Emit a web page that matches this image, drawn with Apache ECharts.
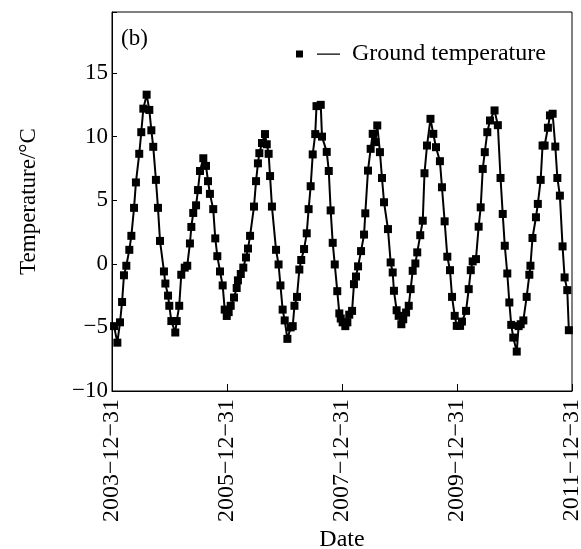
<!DOCTYPE html>
<html><head><meta charset="utf-8">
<script src="https://cdn.jsdelivr.net/npm/echarts@6/dist/echarts.min.js"></script>
<style>html,body{margin:0;padding:0;background:#fff}#c{width:581px;height:549px}</style>
</head><body><div id="c"></div>
<script>
// Observation day (days since 2003-12-31) and ground temperature (°C)
const obsDay = [13,34,51,64,76,91,110,123,140,152,173,186,199,220,237,250,262,279,292,305,330,339,356,364,377,402,411,427,440,462,478,495,504,516,534,546,559,580,597,610,622,643,656,669,686,703,716,729,741,754,775,792,800,818,834,851,864,877,902,915,927,936,953,972,983,995,1004,1016,1042,1058,1070,1084,1097,1114,1135,1148,1159,1175,1190,1202,1220,1237,1249,1262,1275,1291,1299,1326,1334,1364,1377,1389,1402,1415,1431,1444,1453,1465,1482,1495,1507,1525,1537,1550,1563,1582,1601,1609,1626,1643,1656,1673,1685,1702,1715,1728,1753,1770,1783,1791,1808,1821,1838,1850,1868,1885,1897,1910,1927,1939,1958,1974,1985,2001,2023,2041,2058,2083,2096,2113,2130,2147,2160,2177,2190,2211,2223,2249,2266,2279,2291,2312,2329,2342,2355,2368,2384,2401,2430,2451,2468,2482,2495,2511,2524,2536,2549,2571,2583,2596,2613,2634,2651,2658,2671,2693,2705,2723,2735,2748,2769,2782,2799,2816,2829,2845,2862,2875,2892,2902];
const groundTemp = [-4.9,-6.2,-4.6,-3.0,-0.9,-0.15,1.1,2.2,4.4,6.4,8.65,10.35,12.2,13.3,12.1,10.5,9.2,6.6,4.4,1.8,-0.6,-1.55,-2.5,-3.3,-4.5,-5.4,-4.5,-3.3,-0.86,-0.3,-0.15,1.6,2.9,4.0,4.6,5.8,7.3,8.3,7.7,6.5,5.5,4.3,2.0,0.6,-0.6,-1.7,-3.6,-4.1,-3.8,-3.3,-2.65,-1.9,-1.3,-0.8,-0.3,0.5,1.2,2.2,4.5,6.5,7.9,8.7,9.5,10.2,9.4,8.65,6.9,4.5,1.1,-0.05,-1.7,-3.6,-4.45,-5.9,-5.0,-4.9,-3.3,-2.6,-0.45,0.3,1.16,2.4,4.3,6.1,8.6,10.2,12.4,12.5,10.0,8.8,7.3,4.2,1.65,-0.05,-2.15,-3.9,-4.3,-4.6,-4.9,-4.6,-4.0,-3.7,-1.6,-1.0,-0.2,1.0,2.3,3.97,7.33,9.04,10.22,9.57,10.88,8.78,6.75,4.84,2.73,0.11,-0.68,-2.12,-3.65,-4.09,-4.75,-4.36,-3.83,-3.3,-1.99,-0.55,0.03,0.9,2.25,3.39,7.12,9.3,11.4,10.22,9.17,8.07,6.02,3.34,0.56,-0.5,-2.6,-4.09,-4.88,-4.88,-4.54,-3.7,-1.99,-0.5,0.19,0.37,2.92,4.44,7.46,8.78,10.35,11.27,12.06,10.9,6.75,3.92,1.42,-0.76,-3.04,-4.8,-5.8,-6.9,-4.9,-4.75,-4.45,-2.6,-0.86,-0.15,2.03,3.66,4.71,6.6,9.3,9.3,10.7,11.67,11.8,9.22,6.75,5.36,1.37,-1.07,-2.07,-5.22];
const xTickLabels = ['2003\u221212\u221231','2005\u221212\u221231','2007\u221212\u221231','2009\u221212\u221231','2011\u221212\u221231'];
const seriesName = 'Ground temperature';

const FONT = "'Liberation Serif','Times New Roman',serif";
const chart = echarts.init(document.getElementById('c'), null, {renderer: 'canvas'});
chart.setOption({
  animation: false,
  backgroundColor: '#fff',
  title: {
    text: '(b)', left: 121, top: 27, padding: 0,
    textStyle: {fontFamily: FONT, fontSize: 23, fontWeight: 'normal', color: '#000'}
  },
  legend: {
    left: 296, top: 42, padding: 0,
    itemWidth: 51, itemHeight: 7,
    data: [{name: seriesName, icon: 'path://M0,0.5h7v7h-7zM21,3.4h23v1.3h-23zM51,4h0.01v0.01h-0.01z'}],
    textStyle: {fontFamily: FONT, fontSize: 24, color: '#000'}
  },
  grid: {left: 112, right: 9, top: 12, bottom: 158, show: true, borderColor: '#000', borderWidth: 1,
         containLabel: false, outerBoundsMode: 'none'},
  xAxis: {
    type: 'value', min: 0, max: 2922, interval: 730.5,
    name: 'Date', nameLocation: 'middle', nameGap: 137, nameMoveOverlap: false,
    nameTextStyle: {fontFamily: FONT, fontSize: 24, color: '#000'},
    axisLine: {onZero: false, lineStyle: {color: '#000', width: 1}},
    axisTick: {inside: true, length: 7, lineStyle: {color: '#000'}},
    splitLine: {show: false},
    axisLabel: {
      rotate: 90, margin: 8, fontFamily: FONT, fontSize: 24, color: '#000',
      formatter: v => xTickLabels[Math.round(v / 730.5)] || ''
    }
  },
  yAxis: {
    type: 'value', min: -10, max: 19.8, interval: 5,
    name: 'Temperature/\u00B0C', nameLocation: 'middle', nameGap: 72, nameMoveOverlap: false,
    nameTextStyle: {fontFamily: FONT, fontSize: 23, color: '#000'},
    axisLine: {onZero: false, lineStyle: {color: '#000', width: 1}},
    axisTick: {inside: true, length: 5, lineStyle: {color: '#000'}},
    splitLine: {show: false},
    axisLabel: {
      margin: 4, fontFamily: FONT, fontSize: 23, color: '#000',
      formatter: v => (Math.abs(v % 5) > 1e-6) ? '' : (v < 0 ? '\u2212' + Math.abs(v) : String(v))
    }
  },
  series: [{
    name: seriesName, type: 'line',
    data: obsDay.map((d, i) => [d, groundTemp[i]]),
    symbol: 'rect', symbolSize: 8,
    lineStyle: {color: '#000', width: 2},
    itemStyle: {color: '#000'}
  }]
});
</script>
</body></html>
